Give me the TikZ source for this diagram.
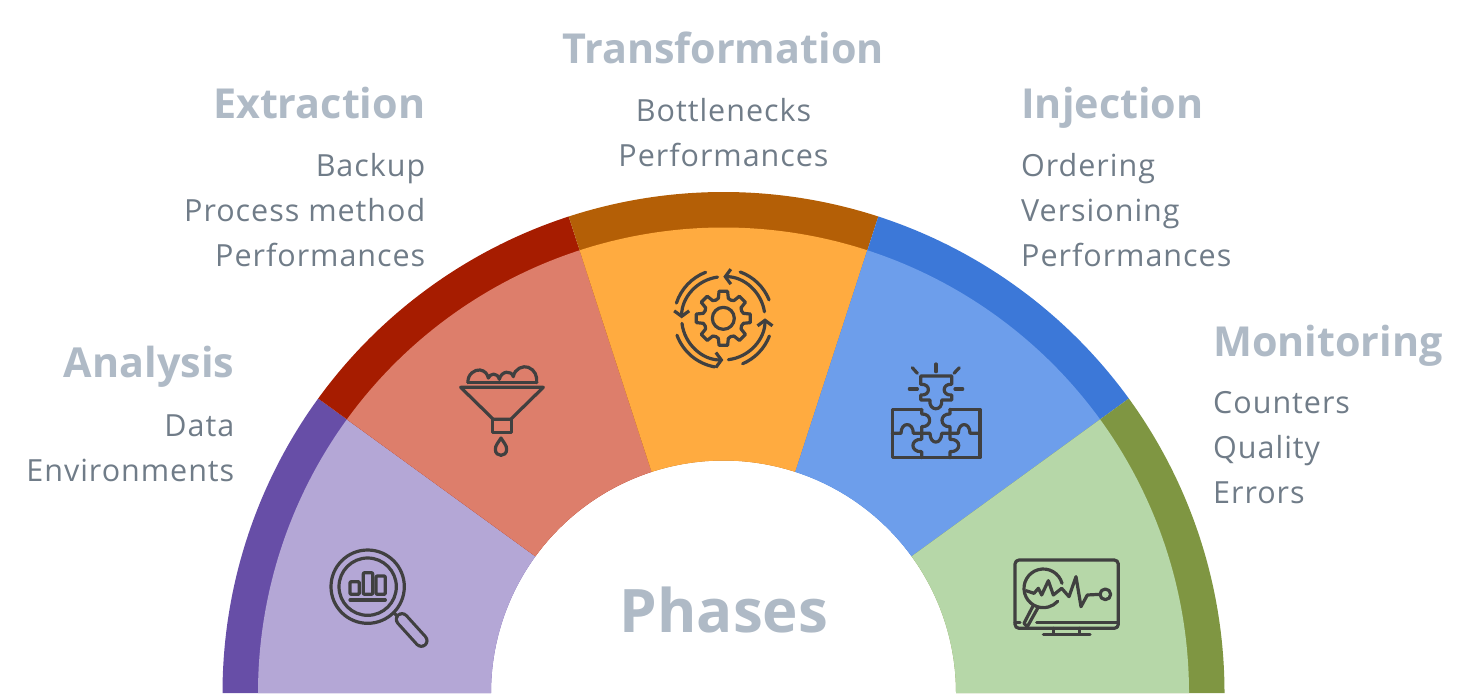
\documentclass[tikz,border=0pt]{standalone}
\usepackage{fontspec}
\setmainfont{Open Sans}
\newfontfamily\bodyfont[LetterSpace=3.2]{Open Sans}
\usetikzlibrary{arrows.meta}
\definecolor{titlec}{HTML}{AFBAC6}
\definecolor{bodyc}{HTML}{707C88}
\definecolor{iconc}{HTML}{404040}
\definecolor{pb}{HTML}{674EA7}\definecolor{pl}{HTML}{B4A7D6}
\definecolor{rb}{HTML}{A61C00}\definecolor{rl}{HTML}{DD7E6B}
\definecolor{ob}{HTML}{B45F06}\definecolor{ol}{HTML}{FFAB40}
\definecolor{bb}{HTML}{3C78D8}\definecolor{bl}{HTML}{6D9EEB}
\definecolor{gb}{HTML}{7F9642}\definecolor{gl}{HTML}{B6D7A8}
\newcommand{\garc}[4]{\draw[#1] ([shift={({-(#2)}:#4)}]190,175) arc[start angle={-(#2)},end angle={-(#3)},radius=#4];}
\begin{document}
\begin{tikzpicture}[x=1pt,y=-1pt,line join=round,
  ttl/.style={text=titlec,font=\fontsize{41.3}{46}\selectfont\bfseries,inner sep=0pt},
  bdy/.style={text=bodyc,font=\bodyfont\fontsize{30.5}{32}\selectfont,inner sep=0pt},
  icon/.style={draw=iconc,line width=3.2pt,line cap=round,fill=none},
  tipped/.style={icon,-{Straight Barb[length=5.5pt,width=15pt,line width=3.2pt]}}]
\useasboundingbox (0,0) rectangle (1477,696);
\foreach \a/\b/\cb/\cl in {180/144/pb/pl,144/108/rb/rl,108/72/ob/ol,72/36/bb/bl,36/0/gb/gl}{
  \fill[\cb] ({723.5+501*cos(\a)},{693-501*sin(\a)}) arc[start angle=-\a,delta angle=\a-\b,radius=501]
     -- ({723.5+232.5*cos(\b)},{693-232.5*sin(\b)}) arc[start angle=-\b,delta angle=\b-\a,radius=232.5] -- cycle;
  \fill[\cl] ({723.5+465.5*cos(\a)},{693-465.5*sin(\a)}) arc[start angle=-\a,delta angle=\a-\b,radius=465.5]
     -- ({723.5+232.5*cos(\b)},{693-232.5*sin(\b)}) arc[start angle=-\b,delta angle=\b-\a,radius=232.5] -- cycle;
}
% texts
\node[ttl,anchor=base east] (t1) at (234.5,377) {Analysis};
\node[bdy,anchor=base east] (a1) at (234.5,436) {Data};
\node[bdy,anchor=base east] (a2) at (234.5,481) {Environments};
\node[ttl,anchor=base east] (t2) at (425.5,118) {Extraction};
\node[bdy,anchor=base east] (e1) at (425.5,176.5) {Backup};
\node[bdy,anchor=base east] (e2) at (425.5,221.5) {Process method};
\node[bdy,anchor=base east] (e3) at (425.5,266.5) {Performances};
\node[ttl,anchor=base] (t3) at (723,63) {Transformation};
\node[bdy,anchor=base] (r1) at (723.5,121.5) {Bottlenecks};
\node[bdy,anchor=base] (r2) at (723.5,166.5) {Performances};
\node[ttl,anchor=base west] (t4) at (1021,118) {Injection};
\node[bdy,anchor=base west] (i1) at (1021,176.5) {Ordering};
\node[bdy,anchor=base west] (i2) at (1021,221.5) {Versioning};
\node[bdy,anchor=base west] (i3) at (1021,266.5) {Performances};
\node[ttl,anchor=base west] (t5) at (1213,356) {Monitoring};
\node[bdy,anchor=base west] (m1) at (1213,413.5) {Counters};
\node[bdy,anchor=base west] (m2) at (1213,458.5) {Quality};
\node[bdy,anchor=base west] (m3) at (1213,503.5) {Errors};
\node[text=titlec,font=\fontsize{60}{66}\selectfont\bfseries,inner sep=0pt,anchor=base] (ph) at (724,632) {Phases};
% magnifier
\begin{scope}[shift={(300,530)},x=0.3333pt,y=-0.3333pt]
  \draw[icon] (203,170) circle[radius=110];
  \draw[icon] (203,170) circle[radius=86];
  \draw[icon,rounded corners=1pt] (150,155) rectangle (178,193);
  \draw[icon,rounded corners=1pt] (190,128) rectangle (218,193);
  \draw[icon,rounded corners=1pt] (228,138) rectangle (256,193);
  \draw[icon] (150,210) -- (256,210);
  \draw[icon] (283,250) -- (296,262);
  \draw[draw=iconc,line width=14.5pt,line cap=round] (306,268) -- (364,332);
  \draw[draw=pl,line width=8.2pt,line cap=round] (306,268) -- (364,332);
\end{scope}
% funnel
\begin{scope}[shift={(440,350)},x=0.3333pt,y=-0.3333pt]
  \draw[icon] (84,98) -- (290,98);
  \draw[icon] (84,98) .. controls (82,72) and (105,58) .. (120,60) .. controls (135,62) and (142,72) .. (145,84) .. controls (150,70) and (172,66) .. (178,88) .. controls (184,62) and (214,60) .. (220,80) .. controls (224,55) and (250,46) .. (265,52) .. controls (285,60) and (292,78) .. (290,98);
  \draw[icon] (62,112) -- (310,112) -- (212,208) -- (160,208) -- cycle;
  \draw[icon] (157,208) rectangle (215,247);
  \draw[icon] (183,264) .. controls (175,278) and (166,285) .. (166,298) .. controls (166,322) and (200,322) .. (200,298) .. controls (200,285) and (191,278) .. (183,264) -- cycle;
\end{scope}
% gear
\begin{scope}[shift={(660,260)},x=0.3333pt,y=-0.3333pt]
  \draw[icon] (190,175) circle[radius=33];
  \draw[icon,shift={(190,175)}] (-14:62) \foreach \t in {0,45,...,315}{
     -- ({\t-14}:62) -- ({\t-9}:82) -- ({\t+9}:82) -- ({\t+14}:62) -- ({\t+22.5}:59) } -- cycle;
  \garc{tipped}{98}{180}{125}
  \garc{tipped}{187}{270}{125}
  \garc{tipped}{277}{360}{125}
  \garc{tipped}{9}{90}{125}
  \garc{icon}{111}{162}{148}
  \garc{icon}{200}{260}{148}
  \garc{icon}{293}{339}{148}
  \garc{icon}{22}{70}{148}
\end{scope}
% puzzle
\begin{scope}[shift={(875,350)},x=0.3333pt,y=-0.3333pt]
  \draw[icon] (183,42) -- (183,65);
  \draw[icon] (112,53) -- (127,70);
  \draw[icon] (253,53) -- (237,70);
  \draw[icon] (103,117) -- (127,117);
  \draw[icon] (240,117) -- (263,117);
  \draw[icon] (137,78) -- (230,78) -- (230,103) .. controls (200,100) and (200,138) .. (230,135) -- (230,150) -- (200,150) .. controls (205,185) and (160,185) .. (165,150) -- (137,150) -- (137,135) .. controls (168,138) and (168,100) .. (137,103) -- cycle;
  \draw[icon] (140,178) -- (52,178) -- (52,323) -- (315,323) -- (315,178) -- (225,178);
  \draw[icon] (52,250) -- (78,250) .. controls (78,215) and (115,215) .. (115,250) -- (165,250) .. controls (165,285) and (200,285) .. (200,250) -- (250,250) .. controls (250,215) and (285,215) .. (285,250) -- (315,250);
  \draw[icon] (140,178) -- (140,192) .. controls (172,190) and (172,232) .. (140,230) -- (140,268) .. controls (105,266) and (105,307) .. (140,305) -- (140,323);
  \draw[icon] (225,178) -- (225,192) .. controls (193,190) and (193,232) .. (225,230) -- (225,268) .. controls (260,266) and (260,307) .. (225,305) -- (225,323);
\end{scope}
% monitor
\begin{scope}[shift={(1000,545)},x=0.3333pt,y=-0.3333pt]
  \draw[icon,rounded corners=4pt] (45,45) rectangle (355,250);
  \draw[icon] (110,232) -- (355,232);
  \draw[icon] (45,232) -- (60,232);
  \draw[icon] (160,250) -- (160,268);
  \draw[icon] (238,250) -- (238,268);
  \draw[icon] (130,268) -- (270,268);
  \draw[icon] ([shift={(-15:58)}]130,130) arc[start angle=-15,end angle=-318,radius=58];
  \draw[icon] (100,181) -- (72,235) -- (82,245) -- (115,186);
  \draw[icon] (78,137) -- (102,145) -- (115,130) -- (125,150) -- (145,107) -- (160,150) -- (185,130) -- (207,155) -- (228,95) -- (243,185) -- (262,150) -- (300,148);
  \draw[icon] (316,148) circle[radius=16];
\end{scope}
\end{tikzpicture}
\end{document}
